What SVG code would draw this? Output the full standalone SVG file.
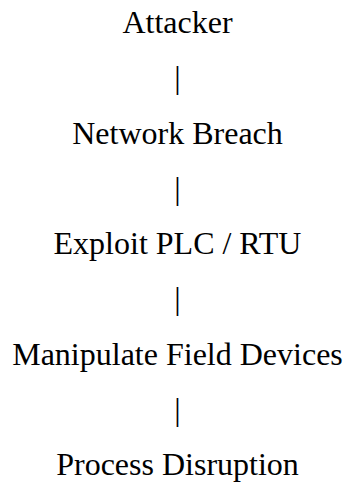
<svg xmlns="http://www.w3.org/2000/svg" width="343" height="482" viewBox="0 0 343 482">
<style>
text{font-family:"Liberation Serif","Times New Roman",serif;font-size:32px;fill:#000;text-anchor:middle}
</style>
<rect width="343" height="482" fill="#fff"/>
<g id="connectors">
<text x="177.5" y="88.3">|</text>
<text x="177.5" y="198.8">|</text>
<text x="177.5" y="309.3">|</text>
<text x="177.5" y="419.8">|</text>
</g>
<g id="attacker"><text x="177.5" y="33">Attacker</text></g>
<g id="network-breach"><text x="177.5" y="143.5">Network Breach</text></g>
<g id="exploit-plc"><text x="177.5" y="254">Exploit PLC / RTU</text></g>
<g id="manipulate"><text x="177.5" y="364.5">Manipulate Field Devices</text></g>
<g id="process-disruption"><text x="177.5" y="475">Process Disruption</text></g>
</svg>
